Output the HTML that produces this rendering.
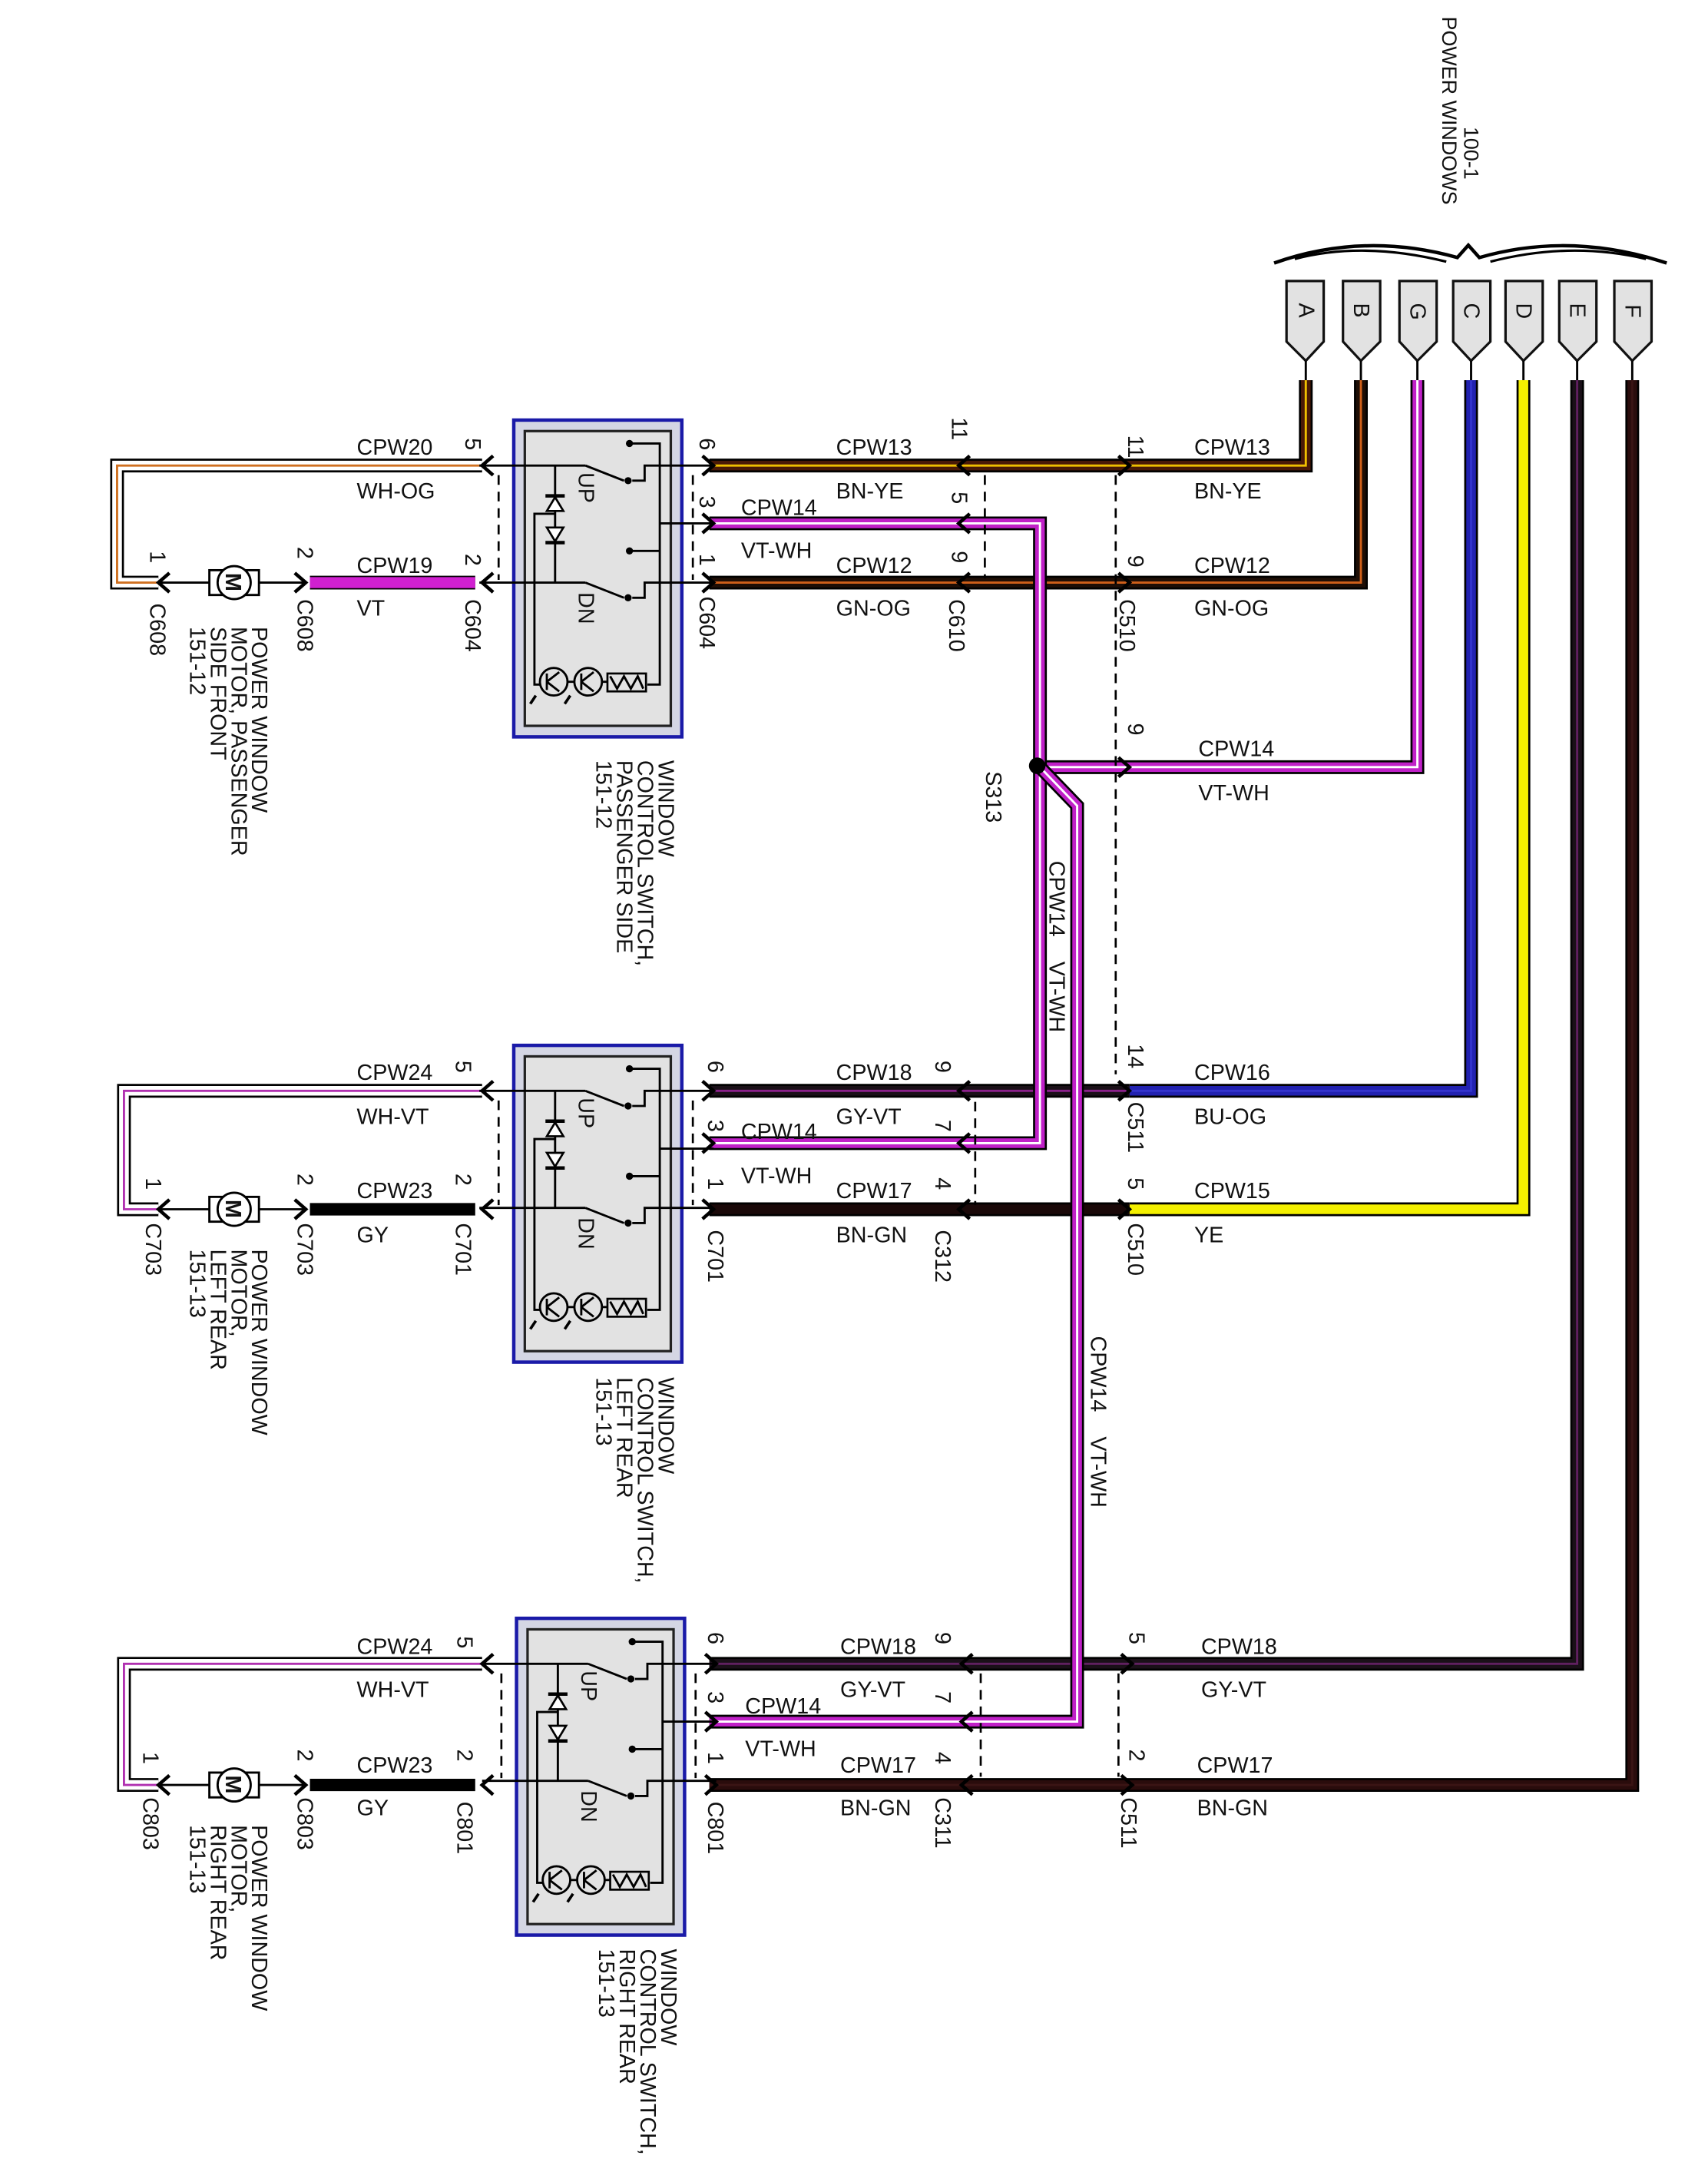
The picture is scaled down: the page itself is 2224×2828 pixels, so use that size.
<!DOCTYPE html>
<html><head><meta charset="utf-8"><style>
html,body{margin:0;padding:0;background:#fff}
svg{display:block}
text{font-family:"Liberation Sans",Arial,sans-serif;font-size:16px;fill:#111}
.o{fill:none;stroke:#000;stroke-width:10;stroke-linejoin:miter}
.b{fill:none;stroke-width:7;stroke-linejoin:miter}
.s{fill:none;stroke-width:1.6;stroke-linejoin:miter}
.t{fill:none;stroke:#000;stroke-width:1.6}
.d{fill:none;stroke:#000;stroke-width:1.5;stroke-dasharray:7,5}
.ch{fill:none;stroke:#000;stroke-width:2.5}
</style></head><body>
<svg width="2224" height="2828" viewBox="0 0 1240 1577" preserveAspectRatio="none" xmlns="http://www.w3.org/2000/svg">
<defs>
<g id="sw">
<rect x="0" y="0" width="122" height="230" fill="#d4d6e4" stroke="#1a1aa8" stroke-width="2.5"/>
<rect x="8" y="8" width="106" height="214" fill="#e2e2e2" stroke="#222" stroke-width="1.8"/>
<path class="t" d="M-25,33 H52 M52,33 L80,44 M86,44 H95 V33 H106 M85,17 H106 V192 H97 M106,33 H145 M106,75 H145 M106,118 H145 M-25,118 H52 M52,118 L80,129 M86,129 H95 V118 H106 M85,95 H106"/>
<circle cx="83" cy="44" r="2.6" fill="#000"/><circle cx="84" cy="17" r="2.6" fill="#000"/>
<circle cx="83" cy="129" r="2.6" fill="#000"/><circle cx="84" cy="95" r="2.6" fill="#000"/>
<path class="t" d="M30,33 V118 M30,68 H15 V192 H19"/>
<polygon points="24,66 36,66 30,56" fill="#fff" stroke="#000" stroke-width="1.5"/><path d="M23,55 H37" stroke="#000" stroke-width="2.5"/>
<polygon points="24,78 36,78 30,88" fill="#fff" stroke="#000" stroke-width="1.5"/><path d="M23,89 H37" stroke="#000" stroke-width="2.5"/>
<circle cx="29" cy="190" r="10" fill="none" stroke="#000" stroke-width="1.6"/>
<circle cx="54" cy="190" r="10" fill="none" stroke="#000" stroke-width="1.6"/>
<path class="t" d="M24,184 V196 M24,190 L33,183 M24,190 L33,197 M49,184 V196 M49,190 L58,183 M49,190 L58,197 M39,190 H44 M64,190 H68"/>
<rect x="68" y="184" width="28" height="13" fill="none" stroke="#000" stroke-width="1.5"/>
<path class="t" d="M70,186 L75,195 L80,186 L85,195 L90,186 L94,195"/>
<path d="M16,200 l-4,6 M41,200 l-4,6" stroke="#000" stroke-width="2"/>
<path class="d" d="M-11,40 V116 M130,40 V116"/>
</g>
</defs>

<text transform="translate(1063,92) rotate(90)" style="font-size:15px">100-1</text>
<text transform="translate(1047,12) rotate(90)" style="font-size:15px">POWER WINDOWS</text>
<path d="M925,191 Q990,168 1058,187 L1066,178 L1074,187 Q1140,168 1210,191" fill="none" stroke="#000" stroke-width="2.5"/>
<path d="M940,188 Q990,175 1050,190 M1082,190 Q1140,175 1195,188" fill="none" stroke="#000" stroke-width="1.8"/>

<g fill="#e2e2e2" stroke="#111" stroke-width="1.8">
<polygon points="934,204 961,204 961,248 948,262 934,248"/>
<polygon points="975,204 1002,204 1002,248 988,262 975,248"/>
<polygon points="1016,204 1043,204 1043,248 1029,262 1016,248"/>
<polygon points="1055,204 1082,204 1082,248 1068,262 1055,248"/>
<polygon points="1093,204 1120,204 1120,248 1106,262 1093,248"/>
<polygon points="1132,204 1159,204 1159,248 1145,262 1132,248"/>
<polygon points="1172,204 1199,204 1199,248 1185,262 1172,248"/>
</g>
<g stroke="#000" stroke-width="1.6"><path d="M948,262V276 M988,262V276 M1029,262V276 M1068,262V276 M1106,262V276 M1145,262V276 M1185,262V276"/></g>
<g style="font-size:14px">
<text transform="translate(943,220) rotate(90)">A</text>
<text transform="translate(983,220) rotate(90)">B</text>
<text transform="translate(1024,220) rotate(90)">G</text>
<text transform="translate(1063,220) rotate(90)">C</text>
<text transform="translate(1101,220) rotate(90)">D</text>
<text transform="translate(1140,220) rotate(90)">E</text>
<text transform="translate(1180,221) rotate(90)">F</text>
</g>

<g>
<path class="o" d="M948,276 V338 H515"/><path class="b" stroke="#4a1a08" d="M948,276 V338 H515"/><path class="s" stroke="#f0c000" d="M948,276 V338 H515"/>
<path class="o" d="M988,276 V423 H515"/><path class="b" stroke="#1e0e06" d="M988,276 V423 H515"/><path class="s" stroke="#d0601a" d="M988,276 V423 H515"/>
<path class="o" d="M1029,276 V557 H755"/><path class="b" stroke="#c020c8" d="M1029,276 V557 H755"/><path class="s" stroke="#fff" d="M1029,276 V557 H755"/>
<path class="o" d="M1068,276 V792 H820"/><path class="b" stroke="#2222b0" d="M1068,276 V792 H820"/><path class="s" stroke="#3333cc" d="M1068,276 V792 H820"/>
<path class="o" d="M1106,276 V878 H820"/><path class="b" stroke="#f4f000" d="M1106,276 V878 H820"/>
<path class="o" d="M1145,276 V1208 H515"/><path class="b" stroke="#1a1018" d="M1145,276 V1208 H515"/><path class="s" stroke="#602060" d="M1145,276 V1208 H515"/>
<path class="o" d="M1185,276 V1296 H515"/><path class="b" stroke="#2a0c0c" d="M1185,276 V1296 H515"/><path class="s" stroke="#3a1414" d="M1185,276 V1296 H515"/>
<path class="o" d="M820,792 H515"/><path class="b" stroke="#1a1018" d="M820,792 H515"/><path class="s" stroke="#8a208a" d="M820,792 H515"/>
<path class="o" d="M820,878 H515"/><path class="b" stroke="#1a0808" d="M820,878 H515"/>
<path class="o" d="M515,380 H755 V830 H515"/><path class="b" stroke="#c020c8" d="M515,380 H755 V830 H515"/><path class="s" stroke="#fff" d="M515,380 H755 V830 H515"/>
<path class="o" d="M755,557 L782,585 V1250 H515"/><path class="b" stroke="#c020c8" d="M755,557 L782,585 V1250 H515"/><path class="s" stroke="#fff" d="M755,557 L782,585 V1250 H515"/>
<path class="o" d="M350,338 H85 V423 H115"/><path class="b" stroke="#fff" d="M350,338 H85 V423 H115"/><path class="s" stroke="#d07020" d="M350,338 H85 V423 H115"/>
<path d="M225,423 H345" stroke="#000" stroke-width="10"/><path d="M225,423 H345" stroke="#d020d0" stroke-width="8"/>
<path class="o" d="M350,792 H90 V878 H115"/><path class="b" stroke="#fff" d="M350,792 H90 V878 H115"/><path class="s" stroke="#b030b0" d="M350,792 H90 V878 H115"/>
<path d="M225,878 H345" stroke="#000" stroke-width="9"/>
<path class="o" d="M350,1208 H90 V1296 H115"/><path class="b" stroke="#fff" d="M350,1208 H90 V1296 H115"/><path class="s" stroke="#b030b0" d="M350,1208 H90 V1296 H115"/>
<path d="M225,1296 H345" stroke="#000" stroke-width="9"/>
</g>
<circle cx="753" cy="556" r="6" fill="#000"/>

<use href="#sw" x="373" y="305"/>
<use href="#sw" x="373" y="759"/>
<use href="#sw" x="375" y="1175"/>
<g style="font-size:14px">
<text transform="translate(420,343) rotate(90)">UP</text><text transform="translate(420,430) rotate(90)">DN</text>
<text transform="translate(420,797) rotate(90)">UP</text><text transform="translate(420,884) rotate(90)">DN</text>
<text transform="translate(422,1213) rotate(90)">UP</text><text transform="translate(422,1300) rotate(90)">DN</text>
</g>

<path class="d" d="M715,345 V420 M810,345 V780 M708,800 V875 M712,1215 V1290 M812,1215 V1290"/>

<g stroke="#000" stroke-width="1.6" fill="none">
<path d="M115,423 H153 M187,423 H222 M115,878 H153 M187,878 H222 M115,1296 H153 M187,1296 H222"/>
<rect x="152" y="414" width="36" height="18" fill="#fff"/><circle cx="170" cy="423" r="12" fill="#fff"/>
<rect x="152" y="869" width="36" height="18" fill="#fff"/><circle cx="170" cy="878" r="12" fill="#fff"/>
<rect x="152" y="1287" width="36" height="18" fill="#fff"/><circle cx="170" cy="1296" r="12" fill="#fff"/>
</g>
<g style="font-size:15px;font-weight:bold">
<text transform="translate(164,416) rotate(90)">M</text>
<text transform="translate(164,871) rotate(90)">M</text>
<text transform="translate(164,1289) rotate(90)">M</text>
</g>

<g class="ch">
<path d="M358,331 L350,338 L358,345 M358,416 L350,423 L358,430 M358,785 L350,792 L358,799 M358,871 L350,878 L358,885 M358,1201 L350,1208 L358,1215 M358,1289 L350,1296 L358,1303"/>
<path d="M510,331 L518,338 L510,345 M510,373 L518,380 L510,387 M510,416 L518,423 L510,430 M510,785 L518,792 L510,799 M510,823 L518,830 L510,837 M510,871 L518,878 L510,885 M512,1201 L520,1208 L512,1215 M512,1243 L520,1250 L512,1257 M512,1289 L520,1296 L512,1303"/>
<path d="M704,331 L696,338 L704,345 M704,373 L696,380 L704,387 M704,416 L696,423 L704,430 M704,785 L696,792 L704,799 M704,823 L696,830 L704,837 M704,871 L696,878 L704,885 M706,1201 L698,1208 L706,1215 M706,1243 L698,1250 L706,1257 M706,1289 L698,1296 L706,1303"/>
<path d="M812,331 L820,338 L812,345 M812,416 L820,423 L812,430 M812,550 L820,557 L812,564 M812,785 L820,792 L812,799 M812,871 L820,878 L812,885 M814,1201 L822,1208 L814,1215 M814,1289 L822,1296 L814,1303"/>
<path d="M123,416 L115,423 L123,430 M123,871 L115,878 L123,885 M123,1289 L115,1296 L123,1303"/>
<path d="M214,416 L222,423 L214,430 M214,871 L222,878 L214,885 M214,1289 L222,1296 L214,1303"/>
</g>

<g>
<text x="259" y="330">CPW20</text><text x="259" y="362">WH-OG</text>
<text x="259" y="416">CPW19</text><text x="259" y="447">VT</text>
<text x="607" y="330">CPW13</text><text x="607" y="362">BN-YE</text>
<text x="538" y="374">CPW14</text><text x="538" y="405">VT-WH</text>
<text x="607" y="416">CPW12</text><text x="607" y="447">GN-OG</text>
<text x="867" y="330">CPW13</text><text x="867" y="362">BN-YE</text>
<text x="867" y="416">CPW12</text><text x="867" y="447">GN-OG</text>
<text x="870" y="549">CPW14</text><text x="870" y="581">VT-WH</text>

<text x="259" y="784">CPW24</text><text x="259" y="816">WH-VT</text>
<text x="259" y="870">CPW23</text><text x="259" y="902">GY</text>
<text x="607" y="784">CPW18</text><text x="607" y="816">GY-VT</text>
<text x="538" y="827">CPW14</text><text x="538" y="859">VT-WH</text>
<text x="607" y="870">CPW17</text><text x="607" y="902">BN-GN</text>
<text x="867" y="784">CPW16</text><text x="867" y="816">BU-OG</text>
<text x="867" y="870">CPW15</text><text x="867" y="902">YE</text>

<text x="259" y="1201">CPW24</text><text x="259" y="1232">WH-VT</text>
<text x="259" y="1287">CPW23</text><text x="259" y="1318">GY</text>
<text x="610" y="1201">CPW18</text><text x="610" y="1232">GY-VT</text>
<text x="541" y="1244">CPW14</text><text x="541" y="1275">VT-WH</text>
<text x="610" y="1287">CPW17</text><text x="610" y="1318">BN-GN</text>
<text x="872" y="1201">CPW18</text><text x="872" y="1232">GY-VT</text>
<text x="869" y="1287">CPW17</text><text x="869" y="1318">BN-GN</text>
</g>

<g>
<text transform="translate(338,318) rotate(90)">5</text><text transform="translate(338,402) rotate(90)">2</text><text transform="translate(338,435) rotate(90)">C604</text>
<text transform="translate(508,318) rotate(90)">6</text><text transform="translate(508,360) rotate(90)">3</text><text transform="translate(508,402) rotate(90)">1</text><text transform="translate(508,433) rotate(90)">C604</text>
<text transform="translate(691,303) rotate(90)">11</text><text transform="translate(691,357) rotate(90)">5</text><text transform="translate(691,400) rotate(90)">9</text><text transform="translate(689,435) rotate(90)">C610</text>
<text transform="translate(819,316) rotate(90)">11</text><text transform="translate(819,403) rotate(90)">9</text><text transform="translate(813,435) rotate(90)">C510</text>
<text transform="translate(819,525) rotate(90)">9</text>
<text transform="translate(109,400) rotate(90)">1</text><text transform="translate(109,438) rotate(90)">C608</text>
<text transform="translate(216,397) rotate(90)">2</text><text transform="translate(216,435) rotate(90)">C608</text>
<text transform="translate(716,560) rotate(90)">S313</text>
<text transform="translate(762,625) rotate(90)">CPW14</text>
<text transform="translate(762,698) rotate(90)">VT-WH</text>

<text transform="translate(331,770) rotate(90)">5</text><text transform="translate(331,852) rotate(90)">2</text><text transform="translate(331,888) rotate(90)">C701</text>
<text transform="translate(514,770) rotate(90)">6</text><text transform="translate(514,813) rotate(90)">3</text><text transform="translate(514,855) rotate(90)">1</text><text transform="translate(514,893) rotate(90)">C701</text>
<text transform="translate(679,770) rotate(90)">9</text><text transform="translate(679,813) rotate(90)">7</text><text transform="translate(679,855) rotate(90)">4</text><text transform="translate(679,893) rotate(90)">C312</text>
<text transform="translate(819,758) rotate(90)">14</text><text transform="translate(819,800) rotate(90)">C511</text><text transform="translate(819,855) rotate(90)">5</text><text transform="translate(819,888) rotate(90)">C510</text>
<text transform="translate(106,855) rotate(90)">1</text><text transform="translate(106,888) rotate(90)">C703</text>
<text transform="translate(216,852) rotate(90)">2</text><text transform="translate(216,888) rotate(90)">C703</text>
<text transform="translate(792,970) rotate(90)">CPW14</text>
<text transform="translate(792,1043) rotate(90)">VT-WH</text>

<text transform="translate(332,1188) rotate(90)">5</text><text transform="translate(332,1270) rotate(90)">2</text><text transform="translate(332,1308) rotate(90)">C801</text>
<text transform="translate(514,1185) rotate(90)">6</text><text transform="translate(514,1228) rotate(90)">3</text><text transform="translate(514,1272) rotate(90)">1</text><text transform="translate(514,1308) rotate(90)">C801</text>
<text transform="translate(679,1185) rotate(90)">9</text><text transform="translate(679,1228) rotate(90)">7</text><text transform="translate(679,1272) rotate(90)">4</text><text transform="translate(679,1305) rotate(90)">C311</text>
<text transform="translate(820,1185) rotate(90)">5</text><text transform="translate(820,1270) rotate(90)">2</text><text transform="translate(814,1305) rotate(90)">C511</text>
<text transform="translate(104,1272) rotate(90)">1</text><text transform="translate(104,1305) rotate(90)">C803</text>
<text transform="translate(216,1270) rotate(90)">2</text><text transform="translate(216,1305) rotate(90)">C803</text>
</g>

<g>
<text transform="translate(183,455) rotate(90)">POWER WINDOW</text>
<text transform="translate(168,455) rotate(90)">MOTOR, PASSENGER</text>
<text transform="translate(153,455) rotate(90)">SIDE FRONT</text>
<text transform="translate(138,455) rotate(90)">151-12</text>

<text transform="translate(478,552) rotate(90)">WINDOW</text>
<text transform="translate(463,552) rotate(90)">CONTROL SWITCH,</text>
<text transform="translate(448,552) rotate(90)">PASSENGER SIDE</text>
<text transform="translate(433,552) rotate(90)">151-12</text>

<text transform="translate(183,907) rotate(90)">POWER WINDOW</text>
<text transform="translate(168,907) rotate(90)">MOTOR,</text>
<text transform="translate(153,907) rotate(90)">LEFT REAR</text>
<text transform="translate(138,907) rotate(90)">151-13</text>

<text transform="translate(478,1000) rotate(90)">WINDOW</text>
<text transform="translate(463,1000) rotate(90)">CONTROL SWITCH,</text>
<text transform="translate(448,1000) rotate(90)">LEFT REAR</text>
<text transform="translate(433,1000) rotate(90)">151-13</text>

<text transform="translate(183,1325) rotate(90)">POWER WINDOW</text>
<text transform="translate(168,1325) rotate(90)">MOTOR,</text>
<text transform="translate(153,1325) rotate(90)">RIGHT REAR</text>
<text transform="translate(138,1325) rotate(90)">151-13</text>

<text transform="translate(480,1415) rotate(90)">WINDOW</text>
<text transform="translate(465,1415) rotate(90)">CONTROL SWITCH,</text>
<text transform="translate(450,1415) rotate(90)">RIGHT REAR</text>
<text transform="translate(435,1415) rotate(90)">151-13</text>
</g>
</svg>
</body></html>
